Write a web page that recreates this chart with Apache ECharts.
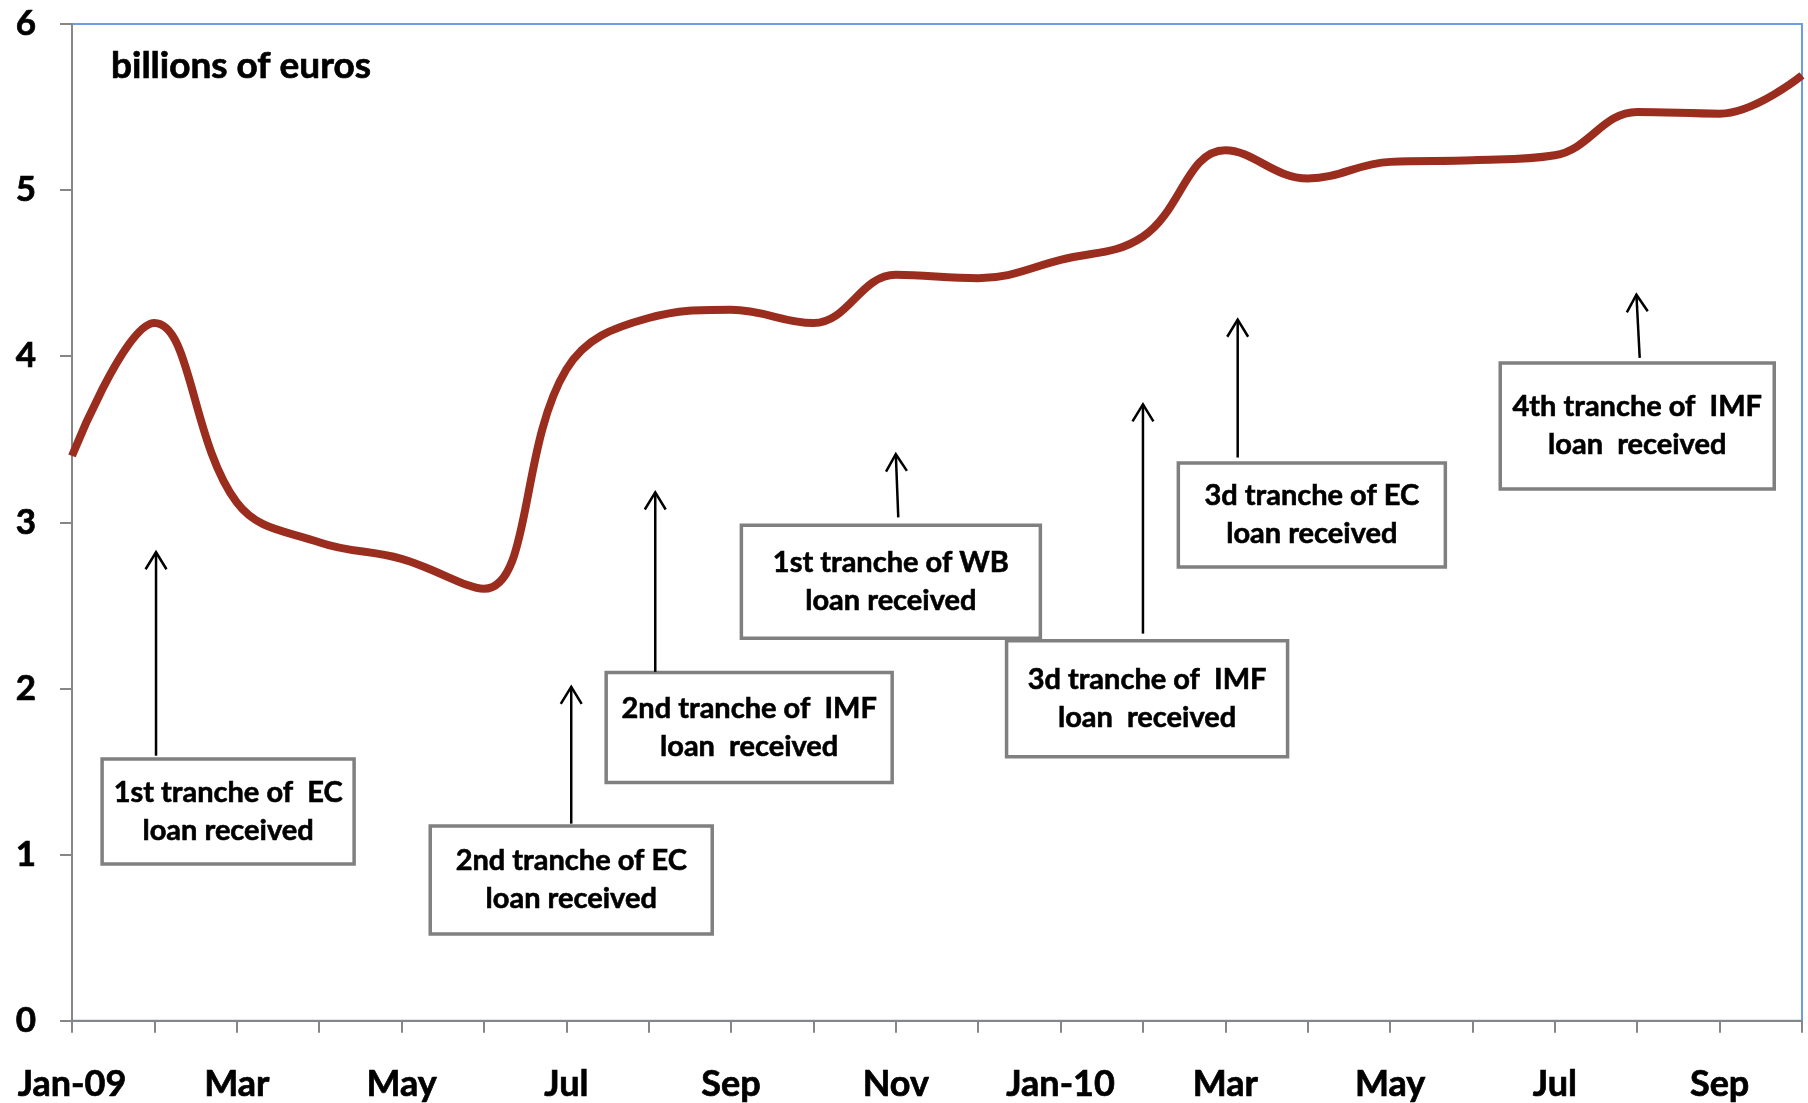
<!DOCTYPE html>
<html>
<head>
<meta charset="utf-8">
<script src="https://cdn.jsdelivr.net/npm/echarts@6/dist/echarts.min.js"></script>
<style>
    html, body { margin: 0; padding: 0; background: #fff; }
    #main { width: 1808px; height: 1103px; }
</style>
</head>
<body>
<div id="main"></div>
<script>
// months Jan-09 .. Oct-10
var months = ['Jan-09','Feb','Mar','Apr','May','Jun','Jul','Aug','Sep','Oct','Nov','Dec',
              'Jan-10','Feb','Mar','Apr','May','Jun','Jul','Aug','Sep','Oct'];
// reserves, billions of euros
var reserves = [3.40, 4.20, 3.12, 2.88, 2.78, 2.60, 3.92, 4.23, 4.28, 4.20, 4.49, 4.47,
                4.58, 4.72, 5.24, 5.07, 5.17, 5.18, 5.21, 5.47, 5.46, 5.69];
var yTicks = [0, 1, 2, 3, 4, 5, 6];

// annotations (anchors in month index / value units)
var noteText = [
    '1st tranche of  EC\nloan received',
    '2nd tranche of EC\nloan received',
    '2nd tranche of  IMF\nloan  received',
    '1st tranche of WB\nloan received',
    '3d tranche of  IMF\nloan  received',
    '3d tranche of EC\nloan received',
    '4th tranche of  IMF\nloan  received'
];
var noteX = [1.895, 6.06, 8.22, 9.94, 13.05, 15.05, 19.0];
var noteY = [1.259, 0.846, 1.765, 2.642, 1.938, 3.044, 3.58];
var arrowFromX = [1.02, 6.06, 7.08, 10.03, 13.0, 14.15, 19.03];
var arrowFromY = [1.595, 1.186, 2.10, 3.03, 2.33, 3.39, 3.99];
var arrowToX = [1.02, 6.06, 7.08, 10.0, 13.0, 14.15, 18.99];
var arrowToY = [2.82, 2.01, 3.18, 3.41, 3.71, 4.22, 4.37];

// box sizes in px
var boxW = [252, 282, 286, 299, 281, 267, 274];
var boxH = [105, 108, 110, 113, 116, 104, 126];

var chart = echarts.init(document.getElementById('main'));
var fontFam = 'Lato, "Open Sans", sans-serif';

var option = {
    animation: false,
    title: {
        text: 'billions of euros',
        left: 106,
        top: 43,
        textStyle: {
            fontFamily: fontFam, fontSize: 37, fontWeight: 'bold', color: '#000',
            textBorderColor: '#000', textBorderWidth: 0.7
        }
    },
    grid: {
        left: 72, right: 6, top: 24, bottom: 82,
        show: true,
        borderColor: '#6a9ee0',
        borderWidth: 2,
        backgroundColor: '#fff'
    },
    xAxis: [{
        type: 'category',
        data: months,
        boundaryGap: false,
        axisLine: { show: true, lineStyle: { color: '#868686', width: 2 } },
        axisTick: { show: true, interval: 0, length: 12, lineStyle: { color: '#868686', width: 2 } },
        axisLabel: {
            interval: 1,
            margin: 46,
            color: '#000',
            fontFamily: fontFam,
            fontSize: 36,
            fontWeight: 'bold',
            textBorderColor: '#000',
            textBorderWidth: 0.7
        },
        splitLine: { show: false }
    }, {
        // hidden helper axis so annotations can sit between months
        type: 'value',
        min: 0,
        max: months.length - 1,
        show: false
    }],
    yAxis: {
        type: 'value',
        min: yTicks[0],
        max: yTicks[yTicks.length - 1],
        interval: 1,
        axisLine: { show: true, lineStyle: { color: '#868686', width: 2 } },
        axisTick: { show: true, length: 12, lineStyle: { color: '#868686', width: 2 } },
        axisLabel: {
            margin: 36,
            color: '#000',
            fontFamily: fontFam,
            fontSize: 35,
            fontWeight: 'bold',
            textBorderColor: '#000',
            textBorderWidth: 0.7
        },
        splitLine: { show: false }
    },
    series: [{
        type: 'line',
        data: reserves,
        smooth: 0.4,
        symbol: 'none',
        lineStyle: { color: '#9b2d1f', width: 8 }
    }]
};
chart.setOption(option);

function toPx(x, y) {
    return chart.convertToPixel({ xAxisIndex: 1, yAxisIndex: 0 }, [x, y]);
}

function drawNotes() {
    var els = [];
    noteText.forEach(function (txt, i) {
        var c = toPx(noteX[i], noteY[i]);
        var a = toPx(arrowFromX[i], arrowFromY[i]);
        var b = toPx(arrowToX[i], arrowToY[i]);
        els.push({
            type: 'rect',
            shape: { x: c[0] - boxW[i] / 2, y: c[1] - boxH[i] / 2, width: boxW[i], height: boxH[i] },
            style: { fill: '#fff', stroke: '#808080', lineWidth: 3.5 },
            z: 10
        });
        els.push({
            type: 'text',
            x: c[0], y: c[1],
            style: {
                text: txt,
                fill: '#000',
                stroke: '#000',
                lineWidth: 0.6,
                font: 'bold 29px ' + fontFam,
                lineHeight: 38,
                align: 'center',
                verticalAlign: 'middle'
            },
            z: 11
        });
        // arrow shaft
        els.push({
            type: 'line',
            shape: { x1: a[0], y1: a[1], x2: b[0], y2: b[1] },
            style: { stroke: '#000', lineWidth: 2.5 },
            z: 10
        });
        // open arrow head
        var ang = Math.atan2(b[1] - a[1], b[0] - a[0]);
        var len = 20, spread = 0.55;
        els.push({
            type: 'polyline',
            shape: {
                points: [
                    [b[0] - len * Math.cos(ang - spread), b[1] - len * Math.sin(ang - spread)],
                    [b[0], b[1]],
                    [b[0] - len * Math.cos(ang + spread), b[1] - len * Math.sin(ang + spread)]
                ]
            },
            style: { stroke: '#000', lineWidth: 2.5, fill: null },
            z: 10
        });
    });
    chart.setOption({ graphic: els });
}
drawNotes();
</script>
</body>
</html>
